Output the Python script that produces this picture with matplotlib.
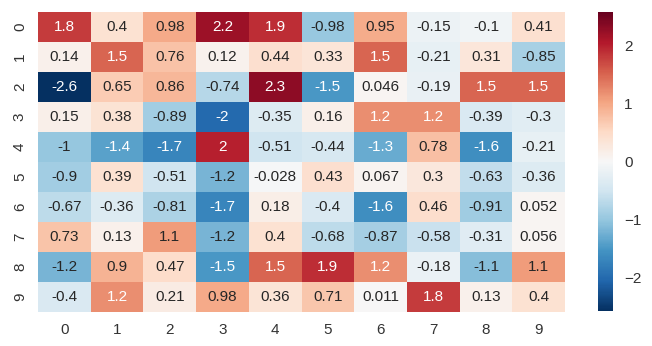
import numpy as np
import matplotlib
matplotlib.use("Agg")
import matplotlib.pyplot as plt
import seaborn as sns

rows = [str(i) for i in range(10)]
cols = [str(i) for i in range(10)]

row0 = [1.8, 0.4, 0.98, 2.2, 1.9, -0.98, 0.95, -0.15, -0.1, 0.41]
row1 = [0.14, 1.5, 0.76, 0.12, 0.44, 0.33, 1.5, -0.21, 0.31, -0.85]
row2 = [-2.6, 0.65, 0.86, -0.74, 2.3, -1.5, 0.046, -0.19, 1.5, 1.5]
row3 = [0.15, 0.38, -0.89, -2, -0.35, 0.16, 1.2, 1.2, -0.39, -0.3]
row4 = [-1, -1.4, -1.7, 2, -0.51, -0.44, -1.3, 0.78, -1.6, -0.21]
row5 = [-0.9, 0.39, -0.51, -1.2, -0.028, 0.43, 0.067, 0.3, -0.63, -0.36]
row6 = [-0.67, -0.36, -0.81, -1.7, 0.18, -0.4, -1.6, 0.46, -0.91, 0.052]
row7 = [0.73, 0.13, 1.1, -1.2, 0.4, -0.68, -0.87, -0.58, -0.31, 0.056]
row8 = [-1.2, 0.9, 0.47, -1.5, 1.5, 1.9, 1.2, -0.18, -1.1, 1.1]
row9 = [-0.4, 1.2, 0.21, 0.98, 0.36, 0.71, 0.011, 1.8, 0.13, 0.4]

data = np.array([row0, row1, row2, row3, row4, row5, row6, row7, row8, row9])

sns.set_style("white")
plt.rcParams['font.family'] = ['Liberation Sans', 'DejaVu Sans']

fig = plt.figure(figsize=(6.52, 3.46), dpi=100)
ax = fig.add_axes([0.0583, 0.0983, 0.8083, 0.867])
cax = fig.add_axes([0.917, 0.101, 0.023, 0.864])

sns.heatmap(data, ax=ax, cbar_ax=cax, cmap="RdBu_r", vmin=-2.58, vmax=2.58,
            annot=True, fmt=".2g", annot_kws={"size": 11},
            xticklabels=cols, yticklabels=rows)

ax.tick_params(length=0, labelsize=11, colors="#333333", pad=8)
ax.set_yticklabels(rows, rotation=90, va="center")
ax.set_xticklabels(cols, rotation=0)
cax.tick_params(length=0, labelsize=11, colors="#333333", pad=8)
cax.set_yticks([-2, -1, 0, 1, 2])
for s in cax.spines.values():
    s.set_visible(False)

fig.savefig("out.png", dpi=100)
